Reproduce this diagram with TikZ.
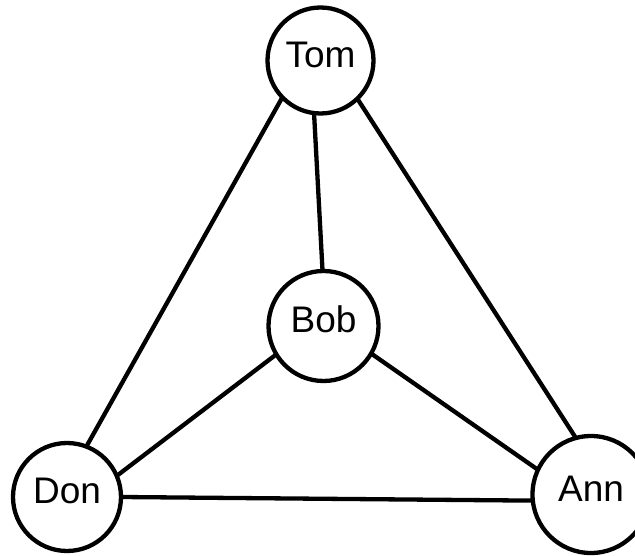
\documentclass[tikz,border=0pt]{standalone}
\usepackage{fontspec}
\setmainfont{Liberation Sans}
\begin{document}
\begin{tikzpicture}[x=1pt, y=-1pt,
  person/.style={draw=black, line width=4.3pt, circle, fill=white, inner sep=0pt, outer sep=0pt,
    font=\fontsize{37}{40}\selectfont, text height=26.5pt, text depth=13pt},
  link/.style={line width=4.3pt, black}]
  \useasboundingbox (0,0) rectangle (635,556);
  % people
  \node[person, minimum size=106pt] (tom) at (320.5,60.5) {Tom};
  \node[person, minimum size=110pt] (bob) at (323.5,326) {Bob};
  \node[person, minimum size=108pt] (don) at (67,497) {Don};
  \node[person, minimum size=117pt] (ann) at (591,494.5) {Ann};
  % relations
  \draw[link] (tom.-97) -- (bob.91);
  \draw[link] (tom.-136) -- (don.69);
  \draw[link] (tom.-46) -- (ann.105);
  \draw[link] (bob.-149) -- (don.23);
  \draw[link] (bob.-30) -- (ann.155);
  \draw[link] (don.0) -- (ann.-174);
\end{tikzpicture}
\end{document}
